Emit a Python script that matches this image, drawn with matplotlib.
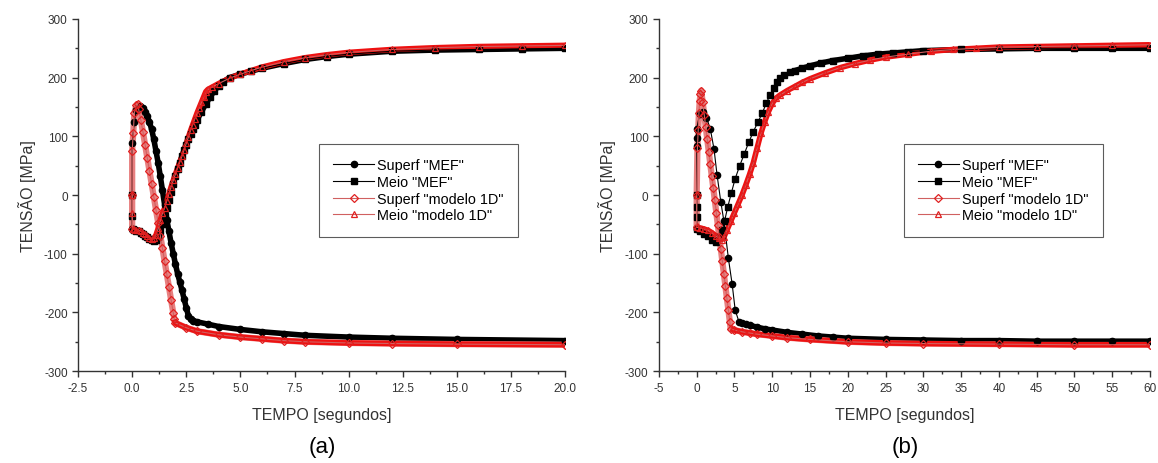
import matplotlib
matplotlib.use("Agg")
import matplotlib.pyplot as plt
from matplotlib.ticker import MultipleLocator

plt.rcParams['font.family'] = ['Liberation Sans', 'DejaVu Sans']
plt.rcParams['axes.unicode_minus'] = False

# ---------------- painel (a): 0 a 20 s ----------------
ta_sup_mef = [0, 0, 0, 0.1, 0.2, 0.35, 0.5, 0.6, 0.7, 0.8, 0.9, 1.0, 1.1, 1.2, 1.3, 1.4,
              1.5, 1.6, 1.7, 1.8, 1.9, 2.0, 2.1, 2.2, 2.3, 2.4, 2.5, 2.6, 2.7, 2.8, 3.0,
              3.5, 4.0, 5.0, 6.0, 7.0, 8.0, 10.0, 12.0, 15.0, 20.0]
va_sup_mef = [-58, 0, 88, 125, 145, 152, 148, 142, 135, 124, 112, 95, 75, 55, 32, 8,
              -17, -42, -62, -82, -100, -118, -134, -148, -162, -177, -192, -206, -212, -214, -216,
              -220, -224, -229, -233, -236, -239, -242, -244, -246, -248]

ta_meio_mef = [0, 0, 0.02, 0.1, 0.2, 0.3, 0.4, 0.5, 0.6, 0.7, 0.8, 0.9, 1.0, 1.1, 1.2, 1.3,
               1.4, 1.5, 1.6, 1.7, 1.8, 1.9, 2.0, 2.1, 2.2, 2.3, 2.4, 2.5, 2.6, 2.7, 2.8,
               2.9, 3.0, 3.2, 3.4, 3.6, 3.8, 4.0, 4.2, 4.5, 5.0, 5.5, 6.0, 7.0, 8.0, 9.0,
               10.0, 12.0, 14.0, 16.0, 18.0, 20.0]
va_meio_mef = [0, -35, -58, -60, -61, -62, -64, -66, -69, -72, -75, -77, -78, -77, -72, -62,
               -50, -36, -22, -8, 6, 19, 32, 44, 55, 66, 76, 86, 95, 104, 112,
               120, 128, 142, 155, 167, 178, 186, 193, 200, 206, 211, 216, 224, 231, 236,
               240, 245, 247, 248, 249, 250]

ta_sup_1d = [0, 0, 0, 0.05, 0.1, 0.2, 0.25, 0.3, 0.4, 0.5, 0.6, 0.7, 0.8, 0.9, 1.0, 1.1,
             1.2, 1.3, 1.4, 1.5, 1.6, 1.7, 1.8, 1.9, 1.95, 2.0, 2.5, 3.0, 4.0, 5.0, 6.0,
             7.0, 8.0, 10.0, 12.0, 15.0, 20.0]
va_sup_1d = [-58, 0, 75, 105, 140, 153, 155, 146, 128, 107, 85, 63, 41, 19, -3, -25,
             -47, -69, -91, -113, -135, -157, -179, -201, -212, -218, -226, -232, -238, -242, -245,
             -248, -250, -252, -253, -254, -255]

ta_meio_1d = [0, 0, 0.02, 0.1, 0.2, 0.3, 0.4, 0.5, 0.6, 0.7, 0.8, 0.9, 1.0, 1.1, 1.2, 1.3,
              1.4, 1.5, 1.6, 1.7, 1.8, 1.9, 2.0, 2.1, 2.2, 2.3, 2.4, 2.5, 2.6, 2.7, 2.8,
              2.9, 3.0, 3.1, 3.2, 3.3, 3.4, 3.5, 3.7, 4.0, 4.5, 5.0, 5.5, 6.0, 7.0, 8.0,
              9.0, 10.0, 12.0, 14.0, 16.0, 18.0, 20.0]
va_meio_1d = [0, -30, -58, -58, -59, -60, -62, -64, -67, -70, -73, -75, -74, -68, -57, -43,
              -31, -22, -10, 2, 14, 25, 36, 46, 56, 66, 77, 88, 99, 110, 120,
              130, 140, 149, 158, 167, 176, 180, 184, 190, 199, 206, 212, 218, 227, 234,
              239, 243, 248, 251, 253, 254, 255]

# ---------------- painel (b): 0 a 60 s ----------------
tb_sup_mef = [0, 0, 0, 0, 0, 0.4, 0.9, 1.3, 1.8, 2.3, 2.7, 3.2, 3.6, 4.2, 4.7, 5.1, 5.6,
              6.0, 6.5, 7.0, 8.0, 9.0, 10.0, 12.0, 14.0, 16.0, 18.0, 20.0, 25.0, 30.0,
              35.0, 40.0, 45.0, 50.0, 55.0, 60.0]
vb_sup_mef = [-58, 0, 83, 98, 113, 138, 142, 132, 113, 78, 34, -12, -44, -108, -152, -196, -216,
              -218, -220, -222, -225, -228, -230, -234, -237, -240, -242, -244, -246, -247,
              -248, -248, -249, -249, -249, -249]

tb_meio_mef = [0, 0, 0, 0, 0.5, 1.0, 1.5, 2.0, 2.5, 3.0, 3.4, 3.7, 4.1, 4.6, 5.1, 5.7, 6.3,
               6.9, 7.5, 8.1, 8.7, 9.2, 9.7, 10.2, 10.6, 11.0, 11.6, 12.3, 13.0, 14.0, 15.0,
               16.5, 18.0, 20.0, 22.0, 24.0, 26.0, 28.0, 30.0, 35.0, 40.0, 45.0, 50.0, 55.0, 60.0]
vb_meio_mef = [0, -20, -37, -58, -62, -66, -70, -76, -80, -72, -60, -44, -21, 4, 28, 50, 70,
               90, 108, 124, 140, 156, 170, 183, 193, 200, 205, 209, 212, 216, 220,
               225, 229, 233, 237, 240, 242, 244, 246, 248, 249, 250, 250, 250, 250]

tb_sup_1d = [0, 0, 0.1, 0.2, 0.3, 0.4, 0.5, 0.6, 0.8, 1.0, 1.2, 1.4, 1.6, 1.8, 2.0, 2.2,
             2.4, 2.6, 2.8, 3.0, 3.2, 3.4, 3.6, 3.8, 4.0, 4.2, 4.4, 4.5, 5.0, 6.0, 7.0,
             8.0, 10.0, 12.0, 15.0, 20.0, 25.0, 30.0, 40.0, 50.0, 60.0]
vb_sup_1d = [-55, 0, 80, 110, 140, 160, 172, 178, 158, 137, 116, 95, 74, 53, 32, 12,
             -9, -30, -51, -72, -92, -113, -134, -155, -176, -196, -217, -228, -230, -233, -235,
             -237, -240, -243, -246, -250, -252, -253, -254, -255, -255]

tb_meio_1d = [0, 0, 0.5, 1.0, 1.5, 2.0, 2.5, 3.0, 3.3, 3.6, 4.0, 4.5, 5.0, 5.5, 6.0, 6.5,
              7.0, 7.5, 8.0, 8.5, 9.0, 9.5, 10.0, 10.5, 11.0, 12.0, 13.0, 14.0, 15.0, 17.0,
              19.0, 21.0, 23.0, 25.0, 28.0, 31.0, 34.0, 37.0, 40.0, 45.0, 50.0, 55.0, 60.0]
vb_meio_1d = [0, -55, -56, -58, -60, -64, -69, -74, -76, -72, -60, -45, -30, -15, 0, 17,
              35, 55, 80, 105, 125, 142, 156, 165, 170, 178, 185, 192, 198, 208,
              217, 224, 230, 235, 240, 245, 248, 250, 252, 253, 254, 255, 256]

labels = ['Superf "MEF"', 'Meio "MEF"', 'Superf "modelo 1D"', 'Meio "modelo 1D"']

fig = plt.figure(figsize=(11.58, 4.64), dpi=100)
ax_a = fig.add_axes([0.0674, 0.198, 0.4206, 0.759])
ax_b = fig.add_axes([0.569, 0.198, 0.424, 0.759])

red_line = '#d06060'


def draw(ax, series, band_start):
    # series: list of (t, v); band_start: tempo a partir do qual a curva fica "cheia"
    styles = [
        dict(color='black', marker='o', ms=4.5, mfc='black', mec='black'),
        dict(color='black', marker='s', ms=4.5, mfc='black', mec='black'),
        dict(color=red_line, marker='D', ms=3.8, mfc='none', mec='#e02020', mew=0.9),
        dict(color=red_line, marker='^', ms=4.2, mfc='none', mec='#e02020', mew=0.9),
    ]
    band_cols = ['black', 'black', '#ee1111', '#ee1111']
    for i, ((t, v), st, lab, bc, t0) in enumerate(zip(series, styles, labels,
                                                       band_cols, band_start)):
        if i == 2:
            # faixa clara dos losangos abertos na descida
            ax.plot(t, v, color='#e88080', lw=4.5, zorder=2)
        tt = [x for x in t if x >= t0]
        vv = [y for x, y in zip(t, v) if x >= t0]
        ax.plot(tt, vv, color=bc, lw=4.0, solid_capstyle='butt', zorder=2)
        ax.plot(t, v, lw=0.8, label=lab, zorder=3, **st)


def style(ax, xlim, xmaj, xmin, fmt):
    ax.set_xlim(*xlim)
    ax.set_ylim(-300, 300)
    ax.xaxis.set_major_locator(MultipleLocator(xmaj))
    ax.xaxis.set_minor_locator(MultipleLocator(xmin))
    ax.yaxis.set_major_locator(MultipleLocator(100))
    ax.yaxis.set_minor_locator(MultipleLocator(50))
    ax.xaxis.set_major_formatter(plt.FormatStrFormatter(fmt))
    for s in ['top', 'right']:
        ax.spines[s].set_visible(False)
    for s in ['left', 'bottom']:
        ax.spines[s].set_color('#333333')
        ax.spines[s].set_linewidth(1.0)
    ax.tick_params(which='major', direction='out', length=4, width=1, colors='#333333',
                   labelsize=8.5, labelcolor='#333333')
    ax.tick_params(which='minor', direction='out', length=2.5, width=1, colors='#333333')
    ax.set_xlabel('TEMPO [segundos]', fontsize=11.5, color='#333333', labelpad=10)
    ax.set_ylabel('TENSÃO [MPa]', fontsize=11.5, color='#333333', labelpad=6)


draw(ax_a, [(ta_sup_mef, va_sup_mef), (ta_meio_mef, va_meio_mef),
            (ta_sup_1d, va_sup_1d), (ta_meio_1d, va_meio_1d)],
     [0.3, 0.02, 1.95, 0.02])
draw(ax_b, [(tb_sup_mef, vb_sup_mef), (tb_meio_mef, vb_meio_mef),
            (tb_sup_1d, vb_sup_1d), (tb_meio_1d, vb_meio_1d)],
     [5.5, 12.0, 4.5, 0.02])

style(ax_a, (-2.5, 20), 2.5, 1.25, '%.1f')
style(ax_b, (-5, 60), 5, 2.5, '%d')

for ax, x0 in [(ax_a, 0.4945), (ax_b, 0.4985)]:
    leg = ax.legend(loc='upper left', bbox_to_anchor=(x0, 0.645), fontsize=10.4,
                    frameon=True, fancybox=False, edgecolor='#333333', handlelength=2.8,
                    borderpad=1.0, labelspacing=0.18, handletextpad=0.25, borderaxespad=0)
    leg.get_frame().set_linewidth(0.8)

fig.text(0.278, 0.012, '(a)', fontsize=16, ha='center', va='bottom')
fig.text(0.782, 0.012, '(b)', fontsize=16, ha='center', va='bottom')

fig.savefig('out.png', dpi=100)
